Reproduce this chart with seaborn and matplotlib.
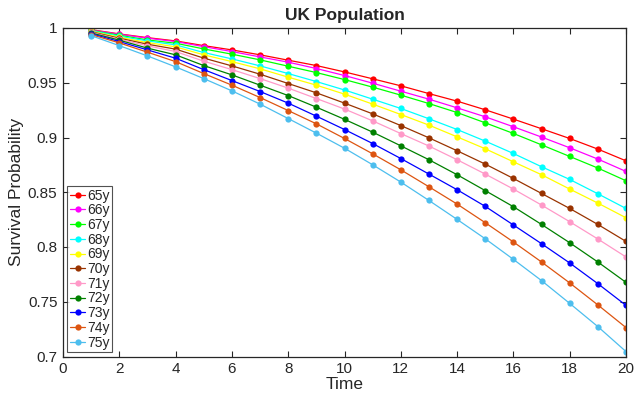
import numpy as np
import pandas as pd
import matplotlib
matplotlib.use("Agg")
import matplotlib.pyplot as plt
import seaborn as sns

time = list(range(1, 21))
ages = ["65y", "66y", "67y", "68y", "69y", "70y", "71y", "72y", "73y", "74y", "75y"]

s65 = [0.9985, 0.9946, 0.9912, 0.9882, 0.9839, 0.9800, 0.9755, 0.9706, 0.9657, 0.9599,
       0.9536, 0.9472, 0.9401, 0.9332, 0.9253, 0.9168, 0.9080, 0.8991, 0.8894, 0.8787]
s66 = [0.9982, 0.9943, 0.9907, 0.9876, 0.9830, 0.9785, 0.9736, 0.9688, 0.9630, 0.9566,
       0.9496, 0.9423, 0.9350, 0.9271, 0.9189, 0.9098, 0.9004, 0.8906, 0.8803, 0.8690]
s67 = [0.9978, 0.9934, 0.9891, 0.9861, 0.9809, 0.9761, 0.9709, 0.9651, 0.9593, 0.9529,
       0.9460, 0.9387, 0.9310, 0.9228, 0.9134, 0.9037, 0.8933, 0.8827, 0.8721, 0.8605]
s68 = [0.9975, 0.9925, 0.9882, 0.9846, 0.9776, 0.9718, 0.9654, 0.9584, 0.9511, 0.9434,
       0.9350, 0.9265, 0.9171, 0.9073, 0.8967, 0.8854, 0.8733, 0.8617, 0.8486, 0.8352]
s69 = [0.9970, 0.9916, 0.9867, 0.9828, 0.9755, 0.9693, 0.9627, 0.9551, 0.9478, 0.9396,
       0.9305, 0.9210, 0.9113, 0.9006, 0.8897, 0.8778, 0.8660, 0.8529, 0.8401, 0.8267]
s70 = [0.9965, 0.9907, 0.9852, 0.9807, 0.9725, 0.9654, 0.9578, 0.9493, 0.9408, 0.9314,
       0.9216, 0.9109, 0.8997, 0.8879, 0.8757, 0.8626, 0.8489, 0.8352, 0.8206, 0.8051]
s71 = [0.9960, 0.9898, 0.9837, 0.9785, 0.9697, 0.9620, 0.9538, 0.9451, 0.9356, 0.9260,
       0.9152, 0.9036, 0.8922, 0.8797, 0.8666, 0.8529, 0.8383, 0.8231, 0.8073, 0.7909]
s72 = [0.9955, 0.9889, 0.9816, 0.9755, 0.9657, 0.9572, 0.9478, 0.9383, 0.9277, 0.9166,
       0.9049, 0.8924, 0.8797, 0.8660, 0.8515, 0.8368, 0.8206, 0.8039, 0.7863, 0.7677]
s73 = [0.9948, 0.9876, 0.9800, 0.9724, 0.9620, 0.9520, 0.9420, 0.9314, 0.9195, 0.9073,
       0.8945, 0.8808, 0.8666, 0.8523, 0.8371, 0.8201, 0.8030, 0.7854, 0.7665, 0.7467]
s74 = [0.9940, 0.9864, 0.9779, 0.9693, 0.9584, 0.9478, 0.9365, 0.9246, 0.9125, 0.8991,
       0.8851, 0.8705, 0.8550, 0.8392, 0.8222, 0.8046, 0.7863, 0.7672, 0.7471, 0.7264]
s75 = [0.9930, 0.9839, 0.9745, 0.9645, 0.9538, 0.9426, 0.9305, 0.9173, 0.9040, 0.8902,
       0.8751, 0.8593, 0.8425, 0.8252, 0.8075, 0.7887, 0.7693, 0.7485, 0.7273, 0.7045]

series = [s65, s66, s67, s68, s69, s70, s71, s72, s73, s74, s75]
colors = ["#ff0000", "#ff00ff", "#00ff00", "#00ffff", "#ffff00", "#993300",
          "#ff99c8", "#008000", "#0000ff", "#dd5511", "#4dbeee"]

xticks = list(range(0, 21, 2))
yticks = [0.7, 0.75, 0.8, 0.85, 0.9, 0.95, 1.0]
yticklabels = ["0.7", "0.75", "0.8", "0.85", "0.9", "0.95", "1"]

rows = []
for age, vals in zip(ages, series):
    for t, v in zip(time, vals):
        rows.append({"Time": t, "Survival Probability": v, "Age": age})
df = pd.DataFrame(rows)

sns.set_theme(style="white")
plt.rcParams["font.family"] = ["Liberation Sans", "DejaVu Sans"]
plt.rcParams["axes.edgecolor"] = "#262626"
plt.rcParams["xtick.color"] = "#262626"
plt.rcParams["ytick.color"] = "#262626"

fig = plt.figure(figsize=(6.34, 3.93), dpi=100)
ax = fig.add_axes([63 / 634, 1 - 356.5 / 393, (626 - 63) / 634, (356.5 - 28) / 393])

sns.lineplot(data=df, x="Time", y="Survival Probability", hue="Age",
             palette=colors, marker="o", markersize=4.5, markeredgewidth=0,
             linewidth=0.9, ax=ax, legend=True)

ax.set_xlim(0, 20)
ax.set_ylim(0.7, 1.0)
ax.set_xticks(xticks)
ax.set_xticklabels([str(x) for x in xticks])
ax.set_yticks(yticks)
ax.set_yticklabels(yticklabels)
ax.tick_params(axis="both", direction="in", length=4, width=0.8, labelsize=11,
               top=True, right=True, bottom=True, left=True, pad=4)
for sp in ax.spines.values():
    sp.set_visible(True)
    sp.set_linewidth(0.9)
    sp.set_color("#262626")

ax.set_title("UK Population", fontsize=12.5, fontweight="bold", pad=6)
ax.set_xlabel("Time", fontsize=12.5, labelpad=1)
ax.set_ylabel("Survival Probability", fontsize=12.5, labelpad=3)

handles, labels = ax.get_legend_handles_labels()
leg = ax.legend(handles, labels, loc="lower left", fontsize=10,
                frameon=True, fancybox=False, edgecolor="#262626",
                handlelength=1.1, handletextpad=0.12, labelspacing=0.05,
                borderpad=0.2, borderaxespad=0.3)
leg.get_frame().set_linewidth(0.8)

fig.savefig("out.png", dpi=100)
